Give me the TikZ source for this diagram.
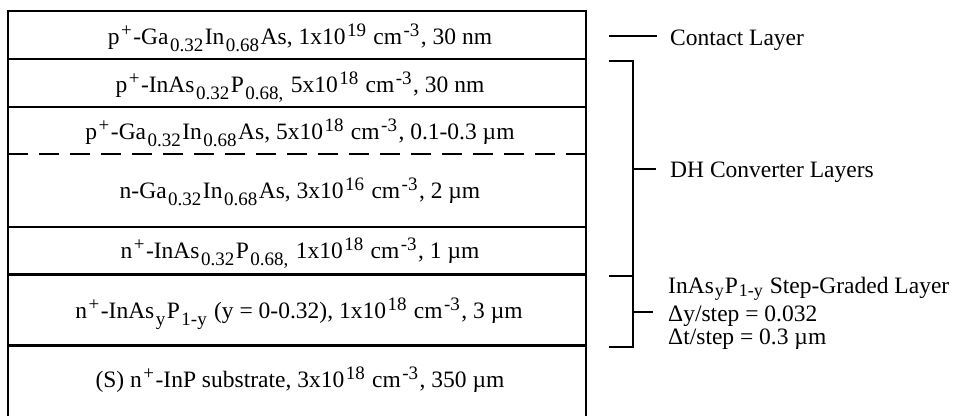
\documentclass[tikz,border=0pt]{standalone}
\usepackage{fontspec}
\setmainfont{Liberation Serif}
\newcommand\lsub[1]{\kern1.5pt\relax\raisebox{-0.31em}{\fontsize{19}{19}\selectfont #1}\kern1.5pt\relax}
\newcommand\lsup[1]{\kern1.5pt\relax\raisebox{0.3em}{\fontsize{19}{19}\selectfont #1}\kern1.5pt\relax}
\newcommand\ssub[1]{\kern1pt\relax\raisebox{-0.17em}{\fontsize{18}{18}\selectfont #1}\kern1pt\relax}
\begin{document}
\begin{tikzpicture}[x=1pt,y=-1pt,
  layertext/.style={anchor=base,inner sep=0pt,font=\fontsize{23.5}{23.5}\selectfont},
  sidetext/.style={anchor=base west,inner sep=0pt,font=\fontsize{23.5}{23.5}\selectfont,text height=14pt,text depth=4pt},
  boxline/.style={line width=2.8pt},
  dashline/.style={line width=2pt,dash pattern=on 20pt off 11pt},
  brack/.style={line width=2.6pt},
  tick/.style={line width=2pt}]
\useasboundingbox (0,0) rectangle (961,415);
% boundaries
\coordinate (L0) at (8,11);  \coordinate (R0) at (586,11);
\coordinate (L1) at (8,59);  \coordinate (R1) at (586,59);
\coordinate (L2) at (8,107); \coordinate (R2) at (586,107);
\coordinate (Ld) at (8,154); \coordinate (Rd) at (586,154);
\coordinate (L3) at (8,227); \coordinate (R3) at (586,227);
\coordinate (L4) at (8,274.5); \coordinate (R4) at (586,274.5);
\coordinate (L5) at (8,345.5); \coordinate (R5) at (586,345.5);
\coordinate (Lb) at (8,416); \coordinate (Rb) at (586,416);
\draw[boxline] (Lb) -- (L0) -- (R0) -- (Rb);
\draw[boxline] (L1) -- (R1);
\draw[boxline] (L2) -- (R2);
\draw[dashline] (Ld) -- (Rd);
\draw[boxline] (L3) -- (R3);
\draw[boxline] (L4) -- (R4);
\draw[boxline] (L5) -- (R5);
% layer texts
\node[layertext] (t1) at (300,44) {p\lsup{+}-Ga\lsub{0.32}In\lsub{0.68}As, 1x10\lsup{19} cm\lsup{-3}, 30 nm};
\node[layertext] (t2) at (300,92) {p\lsup{+}-InAs\lsub{0.32}P\lsub{0.68,} 5x10\lsup{18} cm\lsup{-3}, 30 nm};
\node[layertext] (t3) at (300,139) {p\lsup{+}-Ga\lsub{0.32}In\lsub{0.68}As, 5x10\lsup{18} cm\lsup{-3}, 0.1-0.3 µm};
\node[layertext] (t4) at (300,198) {n-Ga\lsub{0.32}In\lsub{0.68}As, 3x10\lsup{16} cm\lsup{-3}, 2 µm};
\node[layertext] (t5) at (300,258) {n\lsup{+}-InAs\lsub{0.32}P\lsub{0.68,} 1x10\lsup{18} cm\lsup{-3}, 1 µm};
\node[layertext] (t6) at (299,318) {n\lsup{+}-InAs\lsub{y}P\lsub{1-y} (y = 0-0.32), 1x10\lsup{18} cm\lsup{-3}, 3 µm};
\node[layertext] (t7) at (300,387) {(S) n\lsup{+}-InP substrate, 3x10\lsup{18} cm\lsup{-3}, 350 µm};
% brackets
\coordinate (c1) at (609,36); \coordinate (c2) at (657,36);
\draw[tick] (c1) -- (c2);
\coordinate (b1) at (609,61); \coordinate (v1) at (633,61);
\coordinate (b2) at (609,276); \coordinate (v2) at (633,276);
\coordinate (b3) at (609,347); \coordinate (v3) at (633,347);
\draw[brack] (b1) -- (v1) -- (v3) -- (b3);
\draw[brack] (b2) -- (v2);
\coordinate (d1) at (633,169); \coordinate (d2) at (656,169);
\draw[tick] (d1) -- (d2);
\coordinate (s1) at (633,312); \coordinate (s2) at (653,312);
\draw[tick] (s1) -- (s2);
% side labels
\node[sidetext] (contact) at (670,45) {Contact Layer};
\node[sidetext] (dh) at (670,177) {DH Converter Layers};
\node[sidetext] (sg1) at (668,293) {InAs\ssub{y}P\ssub{1-y} Step-Graded Layer};
\node[sidetext] (sg2) at (668,321) {Δy/step = 0.032};
\node[sidetext] (sg3) at (668,344) {Δt/step = 0.3 µm};
\end{tikzpicture}
\end{document}
